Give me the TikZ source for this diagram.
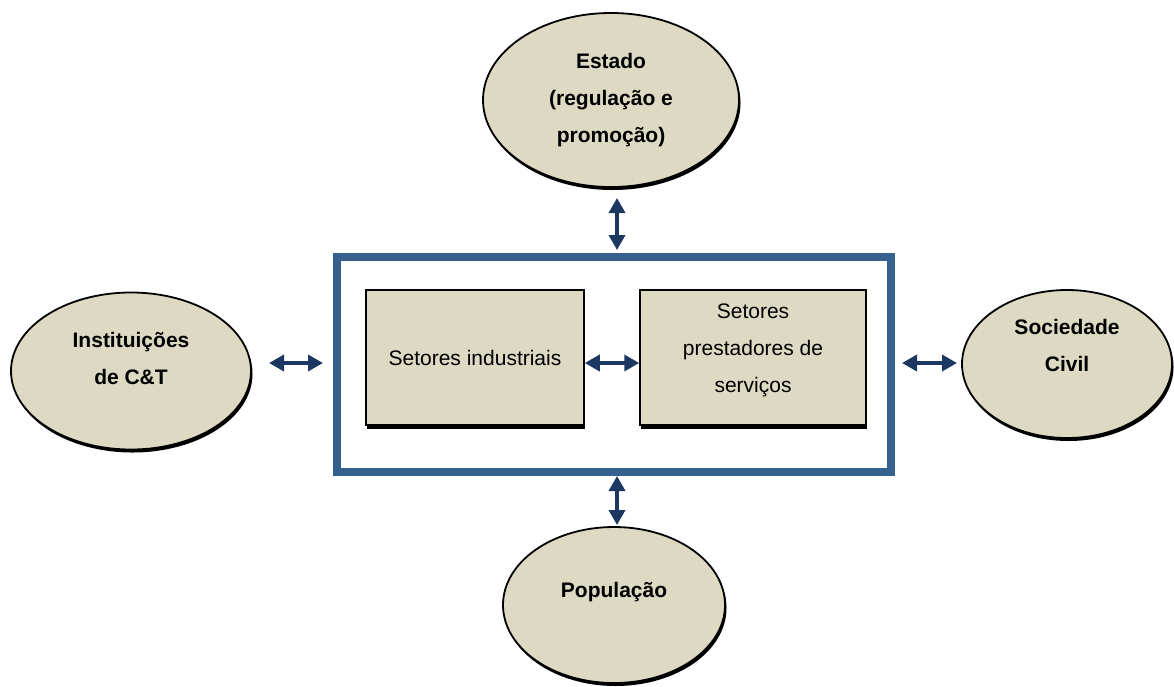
\documentclass[tikz,border=0pt]{standalone}
\usepackage{fontspec}
\setmainfont{Liberation Sans}
\usetikzlibrary{arrows.meta,shapes.geometric,shadows}
\definecolor{tan}{RGB}{221,217,195}
\definecolor{frameblue}{RGB}{54,96,143}
\definecolor{arrownavy}{RGB}{28,56,98}
\begin{document}
\begin{tikzpicture}[x=1pt,y=-1pt,
  actor/.style={ellipse,draw=black,line width=1.8pt,fill=tan,inner sep=0pt,
    drop shadow={shadow xshift=1.5pt,shadow yshift=-3pt,opacity=1,fill=black}},
  actortext/.style={align=center,font=\fontsize{21}{37}\selectfont\bfseries},
  sector/.style={rectangle,draw=black,line width=1.5pt,fill=tan,inner sep=0pt,
    minimum height=135pt,align=center,font=\fontsize{21}{37}\selectfont,
    drop shadow={shadow xshift=1pt,shadow yshift=-4pt,opacity=1,fill=black}},
  link/.style={draw=arrownavy,line width=3.5pt,
    {Triangle[length=15pt,width=16pt]}-{Triangle[length=15pt,width=16pt]}}]
\useasboundingbox (0,0) rectangle (1174,686);

% outer frame around the productive sectors
\node[draw=frameblue,line width=8pt,minimum width=554pt,minimum height=215pt,inner sep=0pt]
  (frame) at (614,364.5) {};

% productive sectors
\node[sector,minimum width=218pt] (ind) at (475,357.5) {Setores industriais};
\node[sector,minimum width=226pt] (serv) at (753,357.5) {};
\node[align=center,font=\fontsize{21}{37}\selectfont] (servtxt) at (753,350)
  {Setores\\prestadores de\\serviços};

% surrounding actors
\node[actor,minimum width=256pt,minimum height=174pt] (estado) at (611,100) {};
\node[actortext] (estadotxt) at (611,100) {Estado\\(regulação e\\promoção)};

\node[actor,minimum width=240pt,minimum height=157pt] (ict) at (131,371) {};
\node[actortext] (icttxt) at (131,358.5) {Instituições\\de C\&T};

\node[actor,minimum width=210pt,minimum height=148pt] (soc) at (1067,364) {};
\node[actortext] (soctxt) at (1067,345) {Sociedade\\Civil};

\node[actor,minimum width=222pt,minimum height=156pt] (pop) at (614,605) {};
\node[actortext] (poptxt) at (614,592) {População};

% interaction arrows
\coordinate (eA) at (617,198);
\coordinate (eB) at (617,250);
\coordinate (pA) at (617,476);
\coordinate (pB) at (617,525);
\coordinate (lA) at (269,363);
\coordinate (lB) at (323,363);
\coordinate (rA) at (902,363);
\coordinate (rB) at (957,363);
\draw[link] (eA) -- (eB);
\draw[link] (pA) -- (pB);
\draw[link] (lA) -- (lB);
\draw[link] (rA) -- (rB);
\draw[link] (ind.east |- 0,363) -- (serv.west |- 0,363);
\end{tikzpicture}
\end{document}
